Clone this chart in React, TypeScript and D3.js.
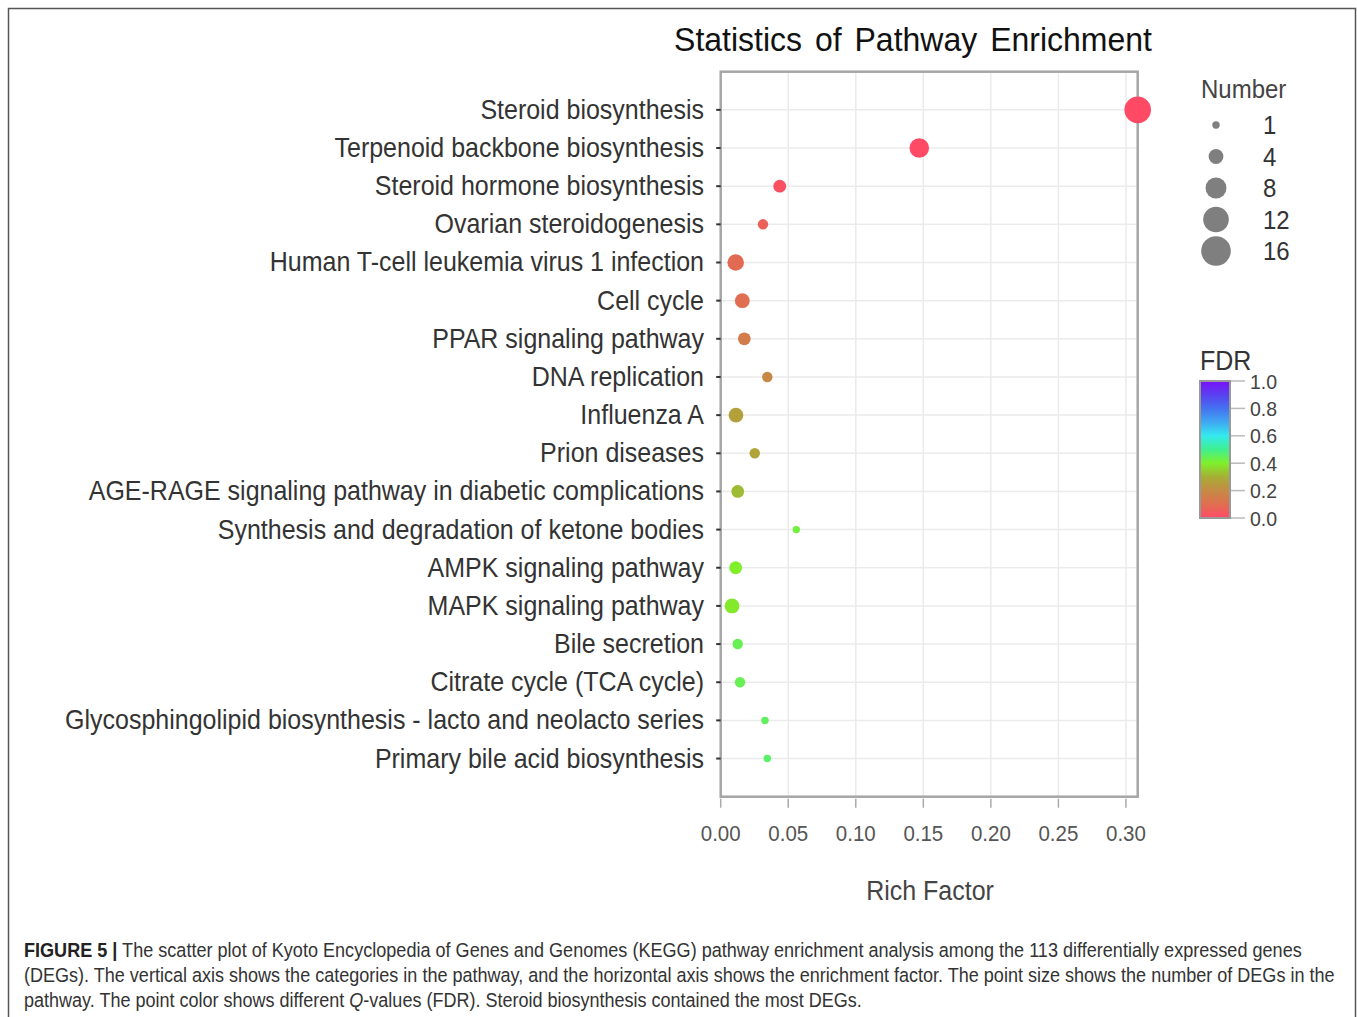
import * as React from "react";
import { useLayoutEffect, useRef, useState } from "react";
import * as d3 from "d3";

const categories = [
  "Steroid biosynthesis",
  "Terpenoid backbone biosynthesis",
  "Steroid hormone biosynthesis",
  "Ovarian steroidogenesis",
  "Human T-cell leukemia virus 1 infection",
  "Cell cycle",
  "PPAR signaling pathway",
  "DNA replication",
  "Influenza A",
  "Prion diseases",
  "AGE-RAGE signaling pathway in diabetic complications",
  "Synthesis and degradation of ketone bodies",
  "AMPK signaling pathway",
  "MAPK signaling pathway",
  "Bile secretion",
  "Citrate cycle (TCA cycle)",
  "Glycosphingolipid biosynthesis - lacto and neolacto series",
  "Primary bile acid biosynthesis",
];
const richFactor = [0.3087, 0.147, 0.0437, 0.0313, 0.0111, 0.016, 0.0175, 0.0345, 0.0113, 0.0252, 0.0126, 0.056, 0.0111, 0.0084, 0.0126, 0.0143, 0.0328, 0.0345];
const geneNumber = [13, 7, 3, 2, 5, 4, 3, 2, 4, 2, 3, 1, 3, 4, 2, 2, 1, 1];
const fdrValues = [0.0, 0.0, 0.02, 0.06, 0.09, 0.1, 0.15, 0.19, 0.26, 0.27, 0.32, 0.42, 0.4, 0.39, 0.44, 0.44, 0.45, 0.46];

const xTicks = [0, 0.05, 0.1, 0.15, 0.2, 0.25, 0.3];
const sizeBreaks = [1, 4, 8, 12, 16];
const fdrTicks = [0, 0.2, 0.4, 0.6, 0.8, 1.0];
const fdrStops = [0, 0.1, 0.2, 0.3, 0.4, 0.5, 0.6, 0.7, 0.8, 0.9, 1.0];
const fdrColors = ["#ff4a66", "#e06e50", "#c68a45", "#a6ae35", "#80f02a", "#40f090", "#33eaee", "#3fa8f2", "#4472f0", "#5a40f0", "#7a10f8"];

const captionLines = [
  "The scatter plot of Kyoto Encyclopedia of Genes and Genomes (KEGG) pathway enrichment analysis among the 113 differentially expressed genes",
  "(DEGs). The vertical axis shows the categories in the pathway, and the horizontal axis shows the enrichment factor. The point size shows the number of DEGs in the",
];
// target widths of the three caption lines in the reference
const captionWidths = [1278, 1312, 838];

export default function App() {
  const W = 1357;
  const H = 1017;
  const panel = { left: 720.7, right: 1137.7, top: 71.7, bottom: 796.7 };

  const capRefs = [useRef<SVGTextElement>(null), useRef<SVGTextElement>(null), useRef<SVGTextElement>(null)];
  const [capScale, setCapScale] = useState([1, 1, 1]);

  useLayoutEffect(() => {
    const s = capRefs.map((ref, i) => {
      const len = ref.current ? ref.current.getComputedTextLength() : 0;
      return len > 0 ? captionWidths[i] / len : 1;
    });
    setCapScale(s);
  }, []);

  const x = d3.scaleLinear().domain([0, 0.3087]).range([panel.left, panel.right]);
  const y = d3.scalePoint<string>().domain(categories).range([panel.top, panel.bottom]).padding(1);
  const r = d3.scaleSqrt().domain([0, 16]).range([0, 14.8]);
  const color = d3.scaleLinear<string>().domain(fdrStops).range(fdrColors).interpolate(d3.interpolateRgb);

  const bar = { x: 1200, w: 30, top: 381, bottom: 518 };
  const fdrY = d3.scaleLinear().domain([0, 1]).range([bar.bottom, bar.top]);

  const font = "'Liberation Sans', Arial, sans-serif";
  const narrow = "'Liberation Sans Narrow', 'Liberation Sans', Arial, sans-serif";

  const points = categories.map((c, i) => ({ c, rf: richFactor[i], n: geneNumber[i], q: fdrValues[i] }));

  return (
    <svg width={W} height={H} style={{ position: "absolute", left: 0, top: 0, background: "#fff" }} fontFamily={font}>
      <defs>
        <linearGradient id="fdrGrad" x1="0" y1="1" x2="0" y2="0">
          {fdrStops.map((s, i) => (
            <stop key={i} offset={s} stopColor={fdrColors[i]} />
          ))}
        </linearGradient>
      </defs>

      {/* outer frame */}
      <path d={`M8.5,${H + 5} V8.5 H1355.5 V${H + 5}`} fill="none" stroke="#555" strokeWidth={1.5} />

      {/* title */}
      <text transform="translate(913,51) scale(1,1.06)" textAnchor="middle" fontSize={32} fill="#111" wordSpacing={4}>
        Statistics of Pathway Enrichment
      </text>

      {/* grid */}
      {xTicks.map((t) => (
        <line key={"gx" + t} x1={x(t)} x2={x(t)} y1={panel.top} y2={panel.bottom} stroke="#ebebeb" strokeWidth={1.5} />
      ))}
      {categories.map((c) => (
        <line key={"gy" + c} x1={panel.left} x2={panel.right} y1={y(c)} y2={y(c)} stroke="#ebebeb" strokeWidth={1.5} />
      ))}

      {/* panel border */}
      <rect x={panel.left} y={panel.top} width={panel.right - panel.left} height={panel.bottom - panel.top} fill="none" stroke="#a6a6a6" strokeWidth={2.5} />

      {/* points */}
      {points.map((p) => (
        <circle key={p.c} cx={x(p.rf)} cy={y(p.c)} r={r(p.n)} fill={color(p.q)} />
      ))}

      {/* y axis */}
      {categories.map((c) => (
        <g key={"yl" + c}>
          <line x1={panel.left - 4.5} x2={panel.left} y1={y(c)} y2={y(c)} stroke="#333" strokeWidth={2} />
          <text transform={`translate(704,${(y(c) as number) + 9}) scale(1,1.1)`} textAnchor="end" fontSize={25} fill="#333">
            {c}
          </text>
        </g>
      ))}

      {/* x axis */}
      {xTicks.map((t) => (
        <g key={"xl" + t}>
          <line x1={x(t)} x2={x(t)} y1={panel.bottom + 2} y2={panel.bottom + 11} stroke="#aaa" strokeWidth={1.5} />
          <text transform={`translate(${x(t)},841) scale(1,1.08)`} textAnchor="middle" fontSize={20.5} fill="#555">
            {d3.format(".2f")(t)}
          </text>
        </g>
      ))}
      <text transform="translate(930,900) scale(1,1.08)" textAnchor="middle" fontSize={25} fill="#444">
        Rich Factor
      </text>

      {/* size legend */}
      <text transform="translate(1201,98) scale(1,1.08)" fontSize={24} fill="#444">
        Number
      </text>
      {sizeBreaks.map((b, i) => {
        const cy = 125 + i * 31.5;
        return (
          <g key={"sb" + b}>
            <circle cx={1216} cy={cy} r={r(b)} fill="#7f7f7f" />
            <text transform={`translate(1263,${cy + 9}) scale(1,1.08)`} fontSize={24} fill="#333">
              {b}
            </text>
          </g>
        );
      })}

      {/* FDR colorbar */}
      <text transform="translate(1200,370) scale(1,1.08)" fontSize={25} fill="#333">
        FDR
      </text>
      <rect x={bar.x} y={bar.top} width={bar.w} height={bar.bottom - bar.top} fill="url(#fdrGrad)" stroke="#999" strokeWidth={2} />
      {fdrTicks.map((t) => (
        <g key={"ft" + t}>
          <line x1={bar.x + bar.w + 1} x2={bar.x + bar.w + 15} y1={fdrY(t)} y2={fdrY(t)} stroke="#bbb" strokeWidth={1.5} />
          <text transform={`translate(1250,${fdrY(t) + 7.5}) scale(1,1.08)`} fontSize={19.5} fill="#444">
            {t.toFixed(1)}
          </text>
        </g>
      ))}

      {/* caption */}
      <g fontFamily={narrow} fontSize={19.5} fill="#333">
        <text ref={capRefs[0]} transform={`translate(24,957) scale(${capScale[0]},1)`}>
          <tspan fontWeight="bold" fill="#222">FIGURE 5 |</tspan> {captionLines[0]}
        </text>
        <text ref={capRefs[1]} transform={`translate(24,982) scale(${capScale[1]},1)`}>
          {captionLines[1]}
        </text>
        <text ref={capRefs[2]} transform={`translate(24,1007) scale(${capScale[2]},1)`}>
          pathway. The point color shows different <tspan fontStyle="italic">Q</tspan>-values (FDR). Steroid biosynthesis contained the most DEGs.
        </text>
      </g>
    </svg>
  );
}
